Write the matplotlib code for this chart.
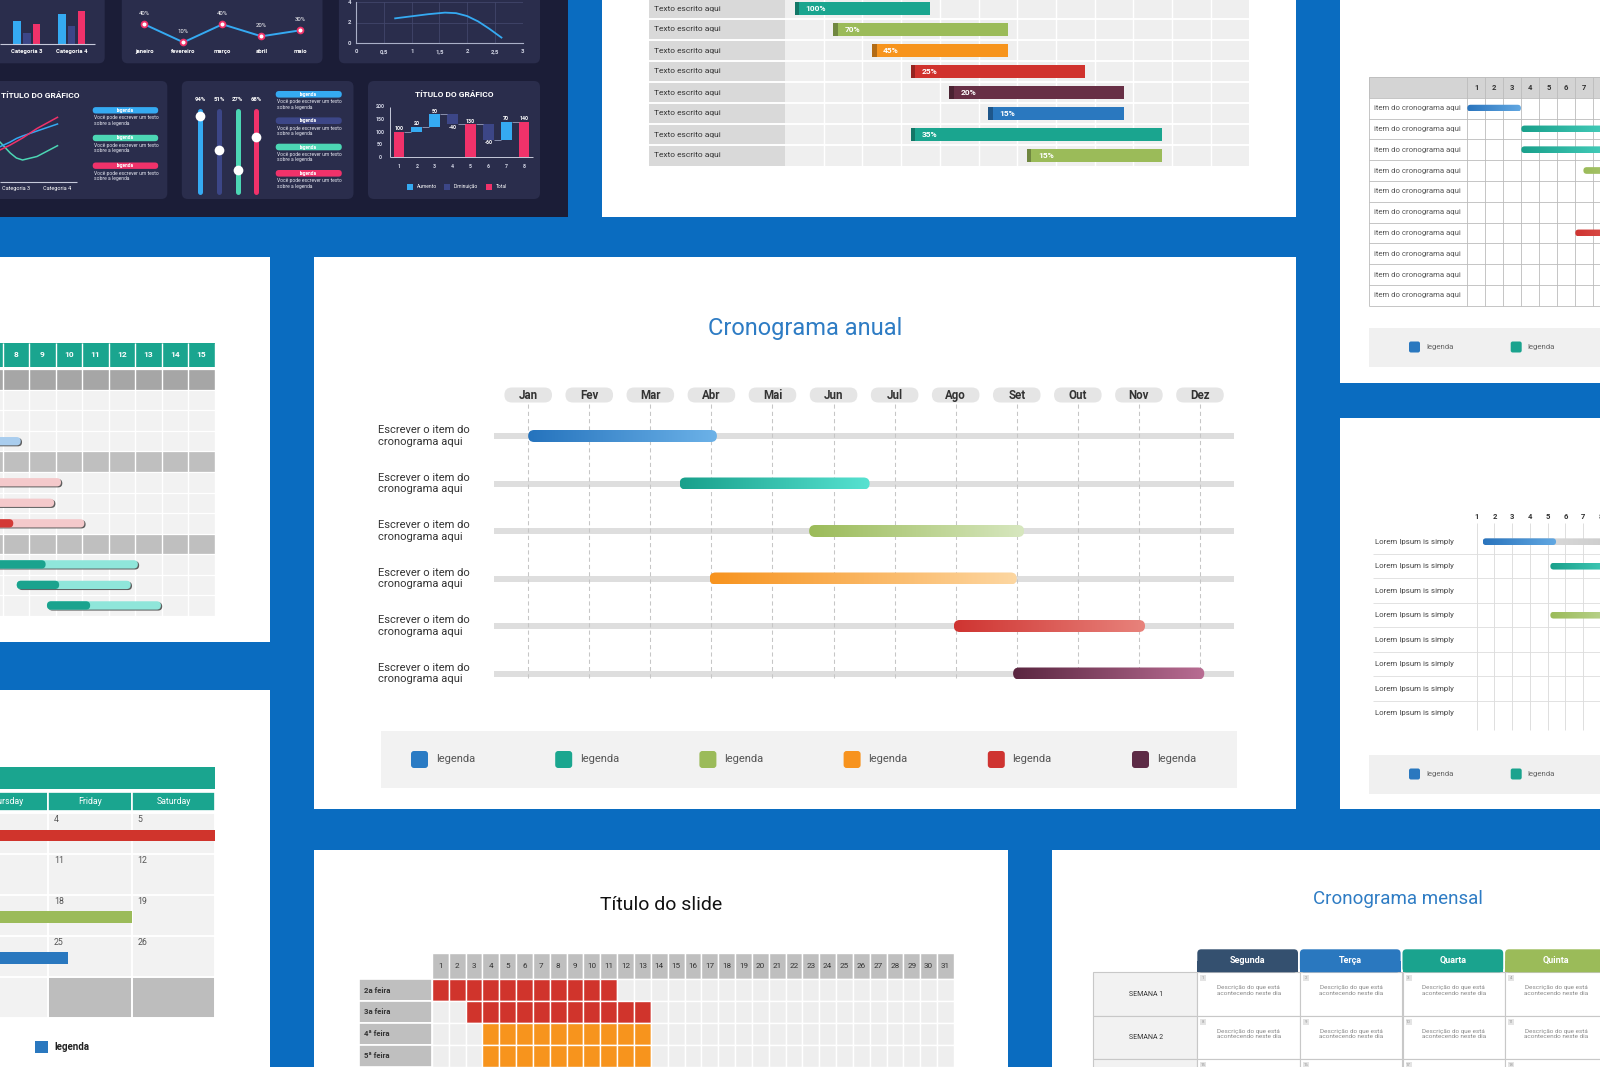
import numpy as np
import matplotlib
matplotlib.use('Agg')
import matplotlib.pyplot as plt
from matplotlib.patches import Rectangle, FancyBboxPatch
from matplotlib.colors import LinearSegmentedColormap, to_rgb
from matplotlib import font_manager

# ======================= DATA =======================
# central annual gantt
MONTHS = ['Jan', 'Fev', 'Mar', 'Abr', 'Mai', 'Jun', 'Jul', 'Ago', 'Set', 'Out', 'Nov', 'Dez']
TASK_LABELS = ['Escrever o item do\ncronograma aqui'] * 6
TASK_START = [0.0, 2.48, 4.60, 2.97, 6.97, 7.94]
TASK_END = [3.09, 5.59, 8.12, 8.00, 10.10, 11.07]
TASK_COLOR_A = ['#2573bd', '#18a08b', '#9bbb59', '#f7931e', '#cf3431', '#5a2640']
TASK_COLOR_B = ['#6cb2e8', '#57e2d1', '#d7e7bf', '#fdd7a2', '#e8837c', '#b96d93']
LEGEND_LABELS = ['legenda'] * 6
LEGEND_COLORS = ['#2a7bc4', '#1ba68f', '#9bbb59', '#f7931e', '#cf3431', '#5d2b46']

# top-middle gantt with percentages
TM_LABELS = ['Texto escrito aqui'] * 8
TM_START = [0.25, 1.25, 2.25, 3.25, 4.25, 5.25, 3.25, 6.25]
TM_END = [3.75, 5.75, 5.75, 7.75, 8.75, 8.75, 9.75, 9.75]
TM_PCT = ['100%', '70%', '45%', '25%', '20%', '15%', '35%', '15%']
TM_COLORS = ['#1aa58f', '#9bbb59', '#f7941d', '#d0322d', '#672f45', '#2a78bf', '#1aa58f', '#9bbb59']
TM_NCOLS = 12

# top-right table gantt
TR_ITEMS = ['item do cronograma aqui'] * 10
TR_DAYS = [1, 2, 3, 4, 5, 6, 7, 8]
TR_ROW = [0, 1, 2, 3, 6]
TR_START = [0.0, 3.0, 3.0, 6.45, 6.0]
TR_END = [2.98, 9.0, 9.0, 10.0, 9.0]
TR_CA = ['#2a74bd', '#19a08b', '#19a08b', '#9bbb59', '#cf3431']
TR_CB = ['#62a8e2', '#4fd8c6', '#4fd8c6', '#b9d28a', '#e0605a']
TR_LEGEND = ['legenda', 'legenda']
TR_LEGEND_COLORS = ['#2a78bf', '#1aa38e']

# right-middle gantt
RM_ITEMS = ['Lorem Ipsum is simply'] * 8
RM_COLS = [1, 2, 3, 4, 5, 6, 7, 8]
RM_ROW = [0, 1, 3]
RM_START = [1.34, 5.15, 5.15]
RM_END = [5.47, 9.5, 9.5]
RM_REST_END = [9.5, None, None]
RM_CA = ['#2a74bd', '#19a08b', '#9bbb59']
RM_CB = ['#62a8e2', '#4fd8c6', '#c5dba0']
RM_LEGEND = ['legenda', 'legenda']
RM_LEGEND_COLORS = ['#2a78bf', '#1aa38e']

# left-middle gantt (days 8..15)
LM_DAYS = [8, 9, 10, 11, 12, 13, 14, 15]
LM_ROW_TYPES = ['G', 'L', 'L', 'L', 'g', 'L', 'L', 'L', 'g', 'L', 'L', 'L']
LM_BAR_ROW = [3, 5, 6, 7, 9, 10, 11]
LM_START = [5.0, 5.0, 5.0, 5.0, 6.0, 8.53, 9.67]
LM_PROG = [6.0, 6.0, 6.0, 8.40, 9.62, 10.13, 11.30]
LM_END = [8.68, 10.20, 9.94, 11.08, 13.10, 12.83, 13.97]
LM_DARK = ['#2f7fc8', '#d33a36', '#d33a36', '#d33a36', '#1aa38e', '#1aa38e', '#1aa38e']
LM_LIGHT = ['#a9cdee', '#f4c9cb', '#f4c9cb', '#f4c9cb', '#8fe6da', '#8fe6da', '#8fe6da']

# left-bottom calendar
CAL_DAYS = ['Thursday', 'Friday', 'Saturday']
CAL_COLS = [4, 5, 6]
CAL_NUMS = [[3, 4, 5], [10, 11, 12], [17, 18, 19], [24, 25, 26], [31, None, None]]
CAL_BAR_WEEK = [0, 2, 3]
CAL_BAR_START = [1.0, 2.0, 0.0]
CAL_BAR_END = [7.0, 6.0, 5.24]
CAL_BAR_COLORS = ['#d0342c', '#9bbb59', '#2a78bf']

# bottom-center monthly grid
BC_DAYS = list(range(1, 32))
BC_ROWS = ['2a feira', '3a feira', '4ª feira', '5ª feira']
BC_START = [1, 3, 4, 4]
BC_END = [11, 13, 13, 13]
BC_COLORS = ['#d0342c', '#d0342c', '#f7941d', '#f7941d']

# bottom-right weekly table
BR_DAYS = ['Segunda', 'Terça', 'Quarta', 'Quinta']
BR_DAY_COLORS = ['#34506f', '#2a78bf', '#1aa38e', '#9bbb59']
BR_WEEKS = ['SEMANA 1', 'SEMANA 2', 'SEMANA 3']
BR_NUMS = [[1, 2, 3, 4], [8, 9, 10, 11], [15, 16, 17, 18]]
BR_DESC = 'Descrição do que está\nacontecendo neste dia'

# dark dashboard
CA_CATS = ['Categoria 3', 'Categoria 4']
CA_S1 = [23.3, 30.0]
CA_S2 = [11.6, 18.3]
CA_S3 = [20.0, 33.6]
CB_MONTHS = ['janeiro', 'fevereiro', 'março', 'abril', 'maio']
CB_VALUES = [40, 10, 40, 20, 30]
CC_X = [0.70, 1.00, 1.30, 1.60, 1.80, 2.00, 2.20, 2.40, 2.62]
CC_Y = [2.40, 2.60, 2.80, 2.95, 2.90, 2.62, 2.10, 1.40, 0.55]
CD_X = [2.6, 2.85, 3.0, 3.15, 3.5, 4.0]
CD_S1 = [35.0, 39.7, 43.2, 45.7, 50.7, 57.7]
CD_S2 = [31.7, 36.7, 40.2, 43.7, 53.2, 64.4]
CD_S3 = [39.7, 28.7, 23.7, 21.7, 25.2, 36.0]
CD_CATS = ['Categoria 3', 'Categoria 4']
SL_VALUES = [94, 51, 27, 68]
WF_LABELS = ['1', '2', '3', '4', '5', '6', '7', '8']
WF_VALUES = [100, 20, 50, -40, 130, -60, 70, 140]
WF_TYPES = ['total', 'inc', 'inc', 'dec', 'total', 'dec', 'inc', 'total']
WF_LEGEND = ['Aumento', 'Diminuição', 'Total']
DASH_LEGEND = ['legenda'] * 4
DASH_NOTE = 'Você pode escrever um texto\nsobre a legenda'

# ======================= STYLE =======================
W, H = 1600, 1067
BLUE_BG = '#0a6cc0'
DARK_BG = '#1b1d37'
CARD = '#2a2d4c'
CYAN = '#35aaf2'
NAVY = '#3c4687'
PINK = '#f0326a'
MINT = '#4cd6b4'
TITLE_BLUE = '#2e7cc4'


def has_font(name):
    try:
        font_manager.findfont(font_manager.FontProperties(family=name), fallback_to_default=False)
        return True
    except Exception:
        return False


BASE = 'Roboto' if has_font('Roboto') else 'DejaVu Sans'
NARROW = 'Liberation Sans Narrow' if has_font('Liberation Sans Narrow') else BASE
NARROW_SCALE = 1.0 if NARROW != BASE else 0.86
plt.rcParams['font.family'] = [BASE, 'DejaVu Sans']

fig = plt.figure(figsize=(W / 100, H / 100), dpi=100)
fig.patch.set_facecolor(BLUE_BG)
bg = fig.add_axes([0, 0, 1, 1], zorder=0)
bg.set_xlim(0, W)
bg.set_ylim(H, 0)
bg.set_axis_off()


def panel(l, t, r, b, color='white', rad=0):
    if rad:
        bg.add_patch(FancyBboxPatch((l, t), r - l, b - t, boxstyle=f'round,pad=0,rounding_size={rad}',
                                    facecolor=color, edgecolor='none'))
    else:
        bg.add_patch(Rectangle((l, t), r - l, b - t, facecolor=color, edgecolor='none'))


def map_axes(box, xo, xs, yo, ys, z=1):
    l, t, r, b = box
    ax = fig.add_axes([l / W, 1 - b / H, (r - l) / W, (b - t) / H], zorder=z)
    ax.set_xlim((l - xo) / xs, (r - xo) / xs)
    ax.set_ylim((b - yo) / ys, (t - yo) / ys)
    ax.set_axis_off()
    fx = lambda p: (p - xo) / xs
    fy = lambda p: (p - yo) / ys
    return ax, fx, fy, xs, ys


def rbox(ax, x, y, w, h, r_px, xs, ys, **kw):
    asp = abs(xs / ys)
    p = FancyBboxPatch((x, y), w, h, boxstyle=f'round,pad=0,rounding_size={r_px / abs(xs)}',
                       mutation_aspect=asp, **kw)
    ax.add_patch(p)
    return p


def grad_bar(ax, x0, x1, yc, h, c0, c1, r_px, xs, ys, z=3):
    y0 = yc - h / 2
    p = rbox(ax, x0, y0, x1 - x0, h, r_px, xs, ys, facecolor='none', edgecolor='none', zorder=z)
    cmap = LinearSegmentedColormap.from_list('g', [c0, c1])
    im = ax.imshow(np.linspace(0, 1, 256)[None, :], cmap=cmap, aspect='auto',
                   extent=[x0, x1, y0, y0 + h], zorder=z, interpolation='bilinear')
    im.set_clip_path(p)
    return p


def darker(c, f=0.72):
    return tuple(v * f for v in to_rgb(c))


# ======================= PANELS =======================
panel(0, 0, 568, 217, DARK_BG)
panel(602, 0, 1296, 217)
panel(1340, 0, 1600, 383)
panel(0, 257, 270, 642)
panel(314, 257, 1296, 809)
panel(1340, 418, 1600, 809)
panel(0, 690, 270, 1067)
panel(314, 850, 1008, 1067)
panel(1052, 850, 1600, 1067)
# dashboard cards
for box in [(-10, -10, 104.7, 63.3), (121.8, -10, 322.5, 63.3), (338.9, -10, 540, 63.3),
            (-10, 81, 167.3, 199), (181.8, 81, 353.5, 199), (368, 81, 540, 199)]:
    panel(*box, color=CARD, rad=6)

# ======================= CENTRAL: Cronograma anual =======================
ax, fx, fy, xs, ys = map_axes((314, 257, 1296, 809), 528.2, 61.07, 436.0, 47.5)
rows = np.arange(len(TASK_LABELS))
ax.text(fx(805), fy(328), 'Cronograma anual', ha='center', va='center', fontsize=17, color=TITLE_BLUE)
ax.hlines(rows, fx(494), fx(1234), color='#dedede', lw=6 * 0.72, zorder=1)
ax.vlines(np.arange(len(MONTHS)), fy(404), fy(679), colors='#c6c6c6', linestyles=(0, (4, 3)), lw=0.75, zorder=1.5)
pw, ph = 47.6 / xs, 15 / ys
for i, m in enumerate(MONTHS):
    rbox(ax, i - pw / 2, fy(395) - ph / 2, pw, ph, 7.5, xs, ys, facecolor='#e5e5e5', edgecolor='none', zorder=2)
    ax.text(i, fy(395.5), m, ha='center', va='center', fontsize=8.3, fontweight='bold', color='#333333', zorder=3)
bh = 12 / ys
for r in rows:
    grad_bar(ax, TASK_START[r], TASK_END[r], r, bh, TASK_COLOR_A[r], TASK_COLOR_B[r], 6, xs, ys, z=4)
    ax.text(fx(378.4), r, TASK_LABELS[r], ha='left', va='center', fontsize=8, color='#333333')
ax.add_patch(Rectangle((fx(381), fy(731)), fx(1237) - fx(381), fy(788) - fy(731), facecolor='#f2f2f2',
                       edgecolor='none', zorder=1))
for k, (lab, col) in enumerate(zip(LEGEND_LABELS, LEGEND_COLORS)):
    x0 = 411 + 144.2 * k
    rbox(ax, fx(x0), fy(751), 17 / xs, 17 / ys, 3, xs, ys, facecolor=col, edgecolor='none', zorder=2)
    ax.text(fx(x0 + 24.7), fy(759.5), lab, ha='left', va='center', fontsize=8, color='#555555', zorder=3)

# ======================= TOP-MIDDLE =======================
ax, fx, fy, xs, ys = map_axes((602, 0, 1296, 217), 785.0, 38.7, 8.5, 21.0)
n = len(TM_LABELS)
xl = fx(649)
ax.add_patch(Rectangle((xl, -0.5), -xl, n, facecolor='#d9d9d9', edgecolor='none', zorder=0))
ax.add_patch(Rectangle((0, -0.5), TM_NCOLS, n, facecolor='#efefef', edgecolor='none', zorder=0))
ax.vlines(np.arange(1, TM_NCOLS), -0.5, n - 0.5, colors='white', lw=1.0, zorder=1)
ax.hlines(np.arange(0.5, n - 0.5), xl, TM_NCOLS, colors='white', lw=1.4, zorder=1)
for r in range(n):
    s, e = TM_START[r], TM_END[r]
    ax.add_patch(Rectangle((s, r - 0.3), e - s, 0.6, facecolor=TM_COLORS[r], edgecolor='none', zorder=2))
    ax.add_patch(Rectangle((s, r - 0.3), 4.5 / xs, 0.6, facecolor=darker(TM_COLORS[r]), edgecolor='none', zorder=3))
    ax.text(s + 11 / xs, r, TM_PCT[r], ha='left', va='center', fontsize=7 * NARROW_SCALE, fontweight='bold',
            color='white', family=[NARROW, 'DejaVu Sans'], zorder=4)
    ax.text(fx(654.5), r, TM_LABELS[r], ha='left', va='center', fontsize=7 * NARROW_SCALE, color='#333333',
            family=[NARROW, 'DejaVu Sans'])

# ======================= TOP-RIGHT =======================
ax, fx, fy, xs, ys = map_axes((1340, 0, 1600, 383), 1467.3, 18.0, 108.1, 20.8)
n = len(TR_ITEMS)
xl = fx(1369.3)
ax.add_patch(Rectangle((xl, -1.5), 14 - xl, 1.0, facecolor='#d4d4d4', edgecolor='none', zorder=0))
ax.vlines(np.arange(0, 10), -1.5, n - 0.5, colors='#bcbcbc', lw=0.6, zorder=1)
ax.vlines([xl], -1.5, n - 0.5, colors='#bcbcbc', lw=0.6, zorder=1)
ax.hlines(np.arange(-1.5, n), xl, 14, colors='#bcbcbc', lw=0.6, zorder=1)
for d in TR_DAYS:
    ax.text(d - 0.5, -1, str(d), ha='center', va='center', fontsize=5.5, fontweight='bold', color='#333333',
            clip_on=True)
for r, lab in enumerate(TR_ITEMS):
    ax.text(fx(1374), r, lab, ha='left', va='center', fontsize=5.6, color='#555555')
for r, s, e, ca, cb in zip(TR_ROW, TR_START, TR_END, TR_CA, TR_CB):
    grad_bar(ax, s, e, r, 6.7 / ys, ca, cb, 3.35, xs, ys, z=3)
ax.add_patch(Rectangle((xl, fy(327.7)), 14 - xl, fy(366.7) - fy(327.7), facecolor='#f0f0f0', edgecolor='none'))
for k, (lab, col) in enumerate(zip(TR_LEGEND, TR_LEGEND_COLORS)):
    x0 = 1409 + 101.7 * k
    rbox(ax, fx(x0), fy(341.5), 11 / xs, 11 / ys, 2, xs, ys, facecolor=col, edgecolor='none', zorder=2)
    ax.text(fx(x0 + 17), fy(347), lab, ha='left', va='center', fontsize=5.6, color='#666666')

# ======================= RIGHT-MIDDLE =======================
ax, fx, fy, xs, ys = map_axes((1340, 418, 1600, 809), 1458.95, 17.75, 541.7, 24.5)
n = len(RM_ITEMS)
ax.vlines(RM_COLS, fy(523), fy(730), colors='#d9d9d9', lw=0.6, zorder=0)
ax.hlines(np.arange(0.5, n - 1), fx(1373), 12, colors='#dddddd', lw=0.6, zorder=0)
for c in RM_COLS:
    ax.text(c, fy(516.7), str(c), ha='center', va='center', fontsize=5.5, fontweight='bold', color='#333333',
            clip_on=True)
for r, lab in enumerate(RM_ITEMS):
    ax.text(fx(1374.7), r, lab, ha='left', va='center', fontsize=5.7, color='#444444')
for r, s, e, rest, ca, cb in zip(RM_ROW, RM_START, RM_END, RM_REST_END, RM_CA, RM_CB):
    if rest is not None:
        grad_bar(ax, s, rest, r, 6.7 / ys, '#e6e6e6', '#c9c9c9', 3.35, xs, ys, z=2)
    grad_bar(ax, s, e, r, 6.7 / ys, ca, cb, 3.35, xs, ys, z=3)
ax.add_patch(Rectangle((fx(1369), fy(755)), 14, fy(794) - fy(755), facecolor='#f0f0f0', edgecolor='none'))
for k, (lab, col) in enumerate(zip(RM_LEGEND, RM_LEGEND_COLORS)):
    x0 = 1409 + 101.7 * k
    rbox(ax, fx(x0), fy(768.5), 11 / xs, 11 / ys, 2, xs, ys, facecolor=col, edgecolor='none', zorder=2)
    ax.text(fx(x0 + 17), fy(774), lab, ha='left', va='center', fontsize=5.6, color='#666666')

# ======================= LEFT-MIDDLE =======================
ax, fx, fy, xs, ys = map_axes((0, 257, 270, 642), -209.3, 26.5, 379.6, 20.53)
dmax = LM_DAYS[-1] + 1
xl = fx(-5)
ax.add_patch(Rectangle((xl, fy(342.7)), dmax - xl, fy(366.7) - fy(342.7), facecolor='#1aa58f', edgecolor='none'))
for i, t in enumerate(LM_ROW_TYPES):
    col = {'G': '#a6a6a6', 'g': '#bfbfbf', 'L': '#f2f2f2'}[t]
    ax.add_patch(Rectangle((xl, i - 0.5), dmax - xl, 1, facecolor=col, edgecolor='none', zorder=0))
ax.vlines(np.arange(1, dmax + 1), fy(342.7), len(LM_ROW_TYPES) - 0.5, colors='white', lw=1.0, zorder=1)
ax.hlines(np.arange(-0.5, len(LM_ROW_TYPES)), xl, dmax, colors='white', lw=0.9, zorder=1)
for d in LM_DAYS:
    ax.text(d + 0.5, fy(354.7), str(d), ha='center', va='center', fontsize=6, fontweight='bold', color='white')
bh = 8.3 / ys
for r, s, p, e, dk, lt in zip(LM_BAR_ROW, LM_START, LM_PROG, LM_END, LM_DARK, LM_LIGHT):
    rbox(ax, s + 1.3 / xs, r - bh / 2 + 1.0 / ys, e - s, bh, 4.15, xs, ys, facecolor='#5f5f5f', edgecolor='none', zorder=2)
    rbox(ax, s, r - bh / 2, e - s, bh, 4.15, xs, ys, facecolor=lt, edgecolor='none', zorder=3)
    rbox(ax, s, r - bh / 2, p - s, bh, 4.15, xs, ys, facecolor=dk, edgecolor='none', zorder=4)

# ======================= LEFT-BOTTOM calendar =======================
ax, fx, fy, xs, ys = map_axes((0, 690, 270, 1067), -370.0, 83.6, 813.3, 40.85)
xl = fx(-5)
ax.add_patch(Rectangle((xl, fy(767.3)), 7 - xl, fy(788.8) - fy(767.3), facecolor='#1aa58f', edgecolor='none'))
for c, name in zip(CAL_COLS, CAL_DAYS):
    ax.add_patch(Rectangle((c, fy(791.8)), 1, fy(811.2) - fy(791.8), facecolor='#1aa58f', edgecolor='white', lw=1.2))
    ax.text(c + 0.5, fy(801.5), name, ha='center', va='center', fontsize=6.3, color='white', clip_on=True)
    for w, week in enumerate(CAL_NUMS):
        num = week[CAL_COLS.index(c)]
        fc = '#f2f2f2' if num is not None else '#bdbdbd'
        ax.add_patch(Rectangle((c, w), 1, 1, facecolor=fc, edgecolor='white', lw=1.4, zorder=0))
        if num is not None:
            ax.text(c + 6 / xs, w + 6.5 / ys, str(num), ha='left', va='center', fontsize=6.3, color='#555555',
                    clip_on=True)
for w, s, e, col in zip(CAL_BAR_WEEK, CAL_BAR_START, CAL_BAR_END, CAL_BAR_COLORS):
    ax.add_patch(Rectangle((s, w + 16.3 / ys), e - s, 11.5 / ys, facecolor=col, edgecolor='none', zorder=2))
ax.add_patch(Rectangle((fx(34.7), fy(1040.8)), 13.3 / xs, 12.5 / ys, facecolor='#2a78bf', edgecolor='none'))
ax.text(fx(54.1), fy(1047), 'legenda', ha='left', va='center', fontsize=7, fontweight='bold', color='#222222')

# ======================= BOTTOM-CENTER =======================
ax, fx, fy, xs, ys = map_axes((314, 850, 1008, 1067), 415.06, 16.84, 979.3, 21.8)
ax.text(fx(661.3), fy(904.5), 'Título do slide', ha='center', va='center', fontsize=14, color='#111111')
nd = len(BC_DAYS)
for c in BC_DAYS:
    ax.add_patch(Rectangle((c, fy(952.7)), 1, fy(979.3) - fy(952.7), facecolor='#bfbfbf', edgecolor='white', lw=1.0))
    ax.text(c + 0.5, fy(966), str(c), ha='center', va='center', fontsize=6.8 * NARROW_SCALE, color='#333333',
            family=[NARROW, 'DejaVu Sans'])
for r, lab in enumerate(BC_ROWS):
    ax.add_patch(Rectangle((fx(359.1), r), 1 - fx(359.1), 1, facecolor='#bfbfbf', edgecolor='white', lw=1.2))
    ax.text(fx(364), r + 0.5, lab, ha='left', va='center', fontsize=6.5 * NARROW_SCALE, fontweight='bold',
            color='#333333', family=[NARROW, 'DejaVu Sans'])
    for c in BC_DAYS:
        filled = BC_START[r] <= c <= BC_END[r]
        ax.add_patch(Rectangle((c, r), 1, 1, facecolor=BC_COLORS[r] if filled else '#eeeeee',
                               edgecolor='white', lw=1.0))

# ======================= BOTTOM-RIGHT =======================
ax, fx, fy, xs, ys = map_axes((1052, 850, 1600, 1067), 1197.3, 102.6, 972.3, 43.5)
ax.text(fx(1398.3), fy(899.5), 'Cronograma mensal', ha='center', va='center', fontsize=13.5, color=TITLE_BLUE)
tw = 100.7 / xs
for k, (day, col) in enumerate(zip(BR_DAYS, BR_DAY_COLORS)):
    y0 = fy(949.3)
    rbox(ax, k, y0, tw, -y0, 4, xs, ys, facecolor=col, edgecolor='none', zorder=2)
    ax.add_patch(Rectangle((k, y0 / 2), tw, -y0 / 2, facecolor=col, edgecolor='none', zorder=2))
    ax.text(k + tw / 2, y0 / 2, day, ha='center', va='center', fontsize=6.5, fontweight='bold', color='white',
            zorder=3, clip_on=True)
xl = fx(1093.1)
for w, (wk, nums) in enumerate(zip(BR_WEEKS, BR_NUMS)):
    ax.add_patch(Rectangle((xl, w), -xl, 1, facecolor='#f2f2f2', edgecolor='#c8c8c8', lw=0.8))
    ax.text(fx(1146.5), w + 0.5, wk, ha='center', va='center', fontsize=5, color='#333333')
    for k, num in enumerate(nums):
        ax.add_patch(Rectangle((k, w), 1, 1, facecolor='white', edgecolor='#c8c8c8', lw=0.8))
        ax.add_patch(Rectangle((k + 3 / xs, w + 3 / ys), 6 / xs, 6 / ys, facecolor='#e4e4e4', edgecolor='none'))
        ax.text(k + 6 / xs, w + 6 / ys, str(num), ha='center', va='center', fontsize=3.2, color='#999999')
        ax.text(k + 0.5, w + 18.2 / ys, BR_DESC, ha='center', va='center', fontsize=4.6, color='#8a8a8a',
                linespacing=1.15, clip_on=True)

# ======================= DARK DASHBOARD =======================
# card A: grouped bars
ax, fx, fy, xs, ys = map_axes((0, 0, 104.7, 63.3), 26.9, 44.9, 44.3, -1.0)
xc = np.arange(len(CA_CATS))
bw, off = 7.3 / xs, 9.8 / xs
ax.bar(xc - off, CA_S1, bw, color=CYAN)
ax.bar(xc, CA_S2, bw, color=NAVY)
ax.bar(xc + off, CA_S3, bw, color=PINK)
ax.hlines(0, fx(0), fx(95.3), color='#c6c9da', lw=0.8)
for i, lab in enumerate(CA_CATS):
    ax.text(i, fy(51.7), lab, ha='center', va='center', fontsize=4.3, fontweight='bold', color='white')

# card B: line with markers
ax, fx, fy, xs, ys = map_axes((121.8, 0, 322.5, 63.3), 144.4, 39.0, 48.3, -0.6)
xb = np.arange(len(CB_MONTHS))
ax.plot(xb, CB_VALUES, color=CYAN, lw=1.4, marker='o', ms=4.2, mfc='white', mec=PINK, mew=1.3)
for i, (m, v) in enumerate(zip(CB_MONTHS, CB_VALUES)):
    ax.annotate(f'{v}%', (i, v), xytext=(0, 8), textcoords='offset points', ha='center', va='center',
                fontsize=4.3, color='white')
    ax.text(i, fy(51.7), m, ha='center', va='center', fontsize=4.3, fontweight='bold', color='white')

# card C: smooth curve on a real grid
axc = fig.add_axes([356.4 / W, 1 - 43.3 / H, 166.1 / W, 41.6 / H], zorder=1)
axc.patch.set_visible(False)
axc.plot(CC_X, CC_Y, color=CYAN, lw=1.3)
axc.set_xlim(0, 3)
axc.set_ylim(0, 4)
axc.set_xticks([0, 0.5, 1, 1.5, 2, 2.5, 3])
axc.set_xticklabels(['0', '0,5', '1', '1,5', '2', '2,5', '3'])
axc.set_yticks([0, 2, 4])
axc.tick_params(labelsize=4.3, colors='#d0d3e3', length=0, pad=4)
for t in axc.get_xticklabels() + axc.get_yticklabels():
    t.set_fontweight('bold')
axc.grid(True, color='#41466b', lw=0.6)
for s in ['top', 'right']:
    axc.spines[s].set_visible(False)
for s in ['left', 'bottom']:
    axc.spines[s].set_color('#aab0c8')
    axc.spines[s].set_linewidth(0.8)

# card D: multi lines + legend pills
ax, fx, fy, xs, ys = map_axes((0, 81, 167.3, 199), -106.9, 41.1, 181.7, -1.0)
ax.text(fx(0.7), fy(95.7), 'TÍTULO DO GRÁFICO', ha='left', va='center', fontsize=6, fontweight='bold', color='white')
ax.plot(CD_X, CD_S3, color=MINT, lw=1.1)
ax.plot(CD_X, CD_S1, color=CYAN, lw=1.1)
ax.plot(CD_X, CD_S2, color=PINK, lw=1.1)
ax.hlines(0, fx(0), fx(77.5), color='#c6c9da', lw=0.8)
for i, lab in enumerate(CD_CATS):
    ax.text(3 + i, fy(188.3), lab, ha='center', va='center', fontsize=4, color='white')
for lab, col, yc in zip(DASH_LEGEND, [CYAN, MINT, PINK], [110.3, 138.0, 165.7]):
    rbox(ax, fx(92.7), fy(yc + 3.2), 65.5 / xs, 6.4 / abs(ys), 3.2, xs, ys, facecolor=col, edgecolor='none')
    ax.text(fx(125.5), fy(yc), lab, ha='center', va='center', fontsize=3.5, fontweight='bold', color='white')
    ax.text(fx(93.8), fy(yc + 4.8), DASH_NOTE, ha='left', va='top', fontsize=3.6, color='#e4e6f0', linespacing=1.1)

# card E: sliders + legend pills
ax, fx, fy, xs, ys = map_axes((181.8, 81, 353.5, 199), 200.4, 18.67, 191.7, -0.81)
SL_COLORS = [CYAN, NAVY, MINT, PINK]
js = np.arange(len(SL_VALUES))
lc = ax.vlines(js, 0, 100, colors=SL_COLORS, lw=3.6)
lc.set_capstyle('round')
ax.plot(js, SL_VALUES, 'o', ms=7, color='white', mec='none', zorder=3)
for j, v in enumerate(SL_VALUES):
    ax.text(j, fy(99.3), f'{v}%', ha='center', va='center', fontsize=4.3, fontweight='bold', color='white')
for lab, col, yc in zip(DASH_LEGEND, SL_COLORS, [94.3, 120.7, 147.0, 173.3]):
    rbox(ax, fx(275.7), fy(yc + 3.3), 66.1 / xs, 6.6 / abs(ys), 3.3, xs, ys, facecolor=col, edgecolor='none')
    ax.text(fx(308.7), fy(yc), lab, ha='center', va='center', fontsize=3.5, fontweight='bold', color='white')
    ax.text(fx(277), fy(yc + 5), DASH_NOTE, ha='left', va='top', fontsize=3.6, color='#e4e6f0', linespacing=1.1)

# card F: waterfall
ax, fx, fy, xs, ys = map_axes((368, 81, 540, 199), 381.14, 17.86, 157.3, -0.253)
ax.text(fx(454.5), fy(94), 'TÍTULO DO GRÁFICO', ha='center', va='center', fontsize=6, fontweight='bold', color='white')
run = 0
xw = np.arange(1, len(WF_VALUES) + 1)
wcol = {'inc': CYAN, 'dec': NAVY, 'total': PINK}
bwid = 10.9 / xs
for k, (v, t) in enumerate(zip(WF_VALUES, WF_TYPES)):
    if t == 'total':
        bottom, top = 0, v
        run = v
    else:
        bottom, top = run, run + v
        run = run + v
    ax.bar(xw[k], top - bottom, bwid, bottom=bottom, color=wcol[t])
    lo, hi = min(bottom, top), max(bottom, top)
    if v >= 0:
        ax.text(xw[k], hi + 12, str(v), ha='center', va='center', fontsize=3.8, fontweight='bold', color='white')
    else:
        ax.text(xw[k], lo - 12, str(v), ha='center', va='center', fontsize=3.8, fontweight='bold', color='white')
    if k < len(WF_VALUES) - 1:
        ax.hlines(run, xw[k] + bwid / 2, xw[k + 1] - bwid / 2, color='#9aa0bd', lw=0.6)
ax.vlines(fx(389.8), 0, 200, color='#c6c9da', lw=0.7)
ax.hlines(0, fx(389.8), fx(532.7), color='#c6c9da', lw=0.7)
for tv in [0, 50, 100, 150, 200]:
    ax.text(fx(380), tv, str(tv), ha='center', va='center', fontsize=3.8, fontweight='bold', color='#d0d3e3')
for k, lab in enumerate(WF_LABELS):
    ax.text(xw[k], fy(166.7), lab, ha='center', va='center', fontsize=3.8, fontweight='bold', color='#d0d3e3')
for lab, col, x0 in zip(WF_LEGEND, [CYAN, NAVY, PINK], [407, 444, 486]):
    ax.add_patch(Rectangle((fx(x0), fy(189.5)), 6 / xs, 5.6 / abs(ys), facecolor=col, edgecolor='none'))
    ax.text(fx(x0 + 10), fy(186.7), lab, ha='left', va='center', fontsize=3.5, color='white')

fig.savefig('out.png', dpi=100, facecolor=fig.get_facecolor())
